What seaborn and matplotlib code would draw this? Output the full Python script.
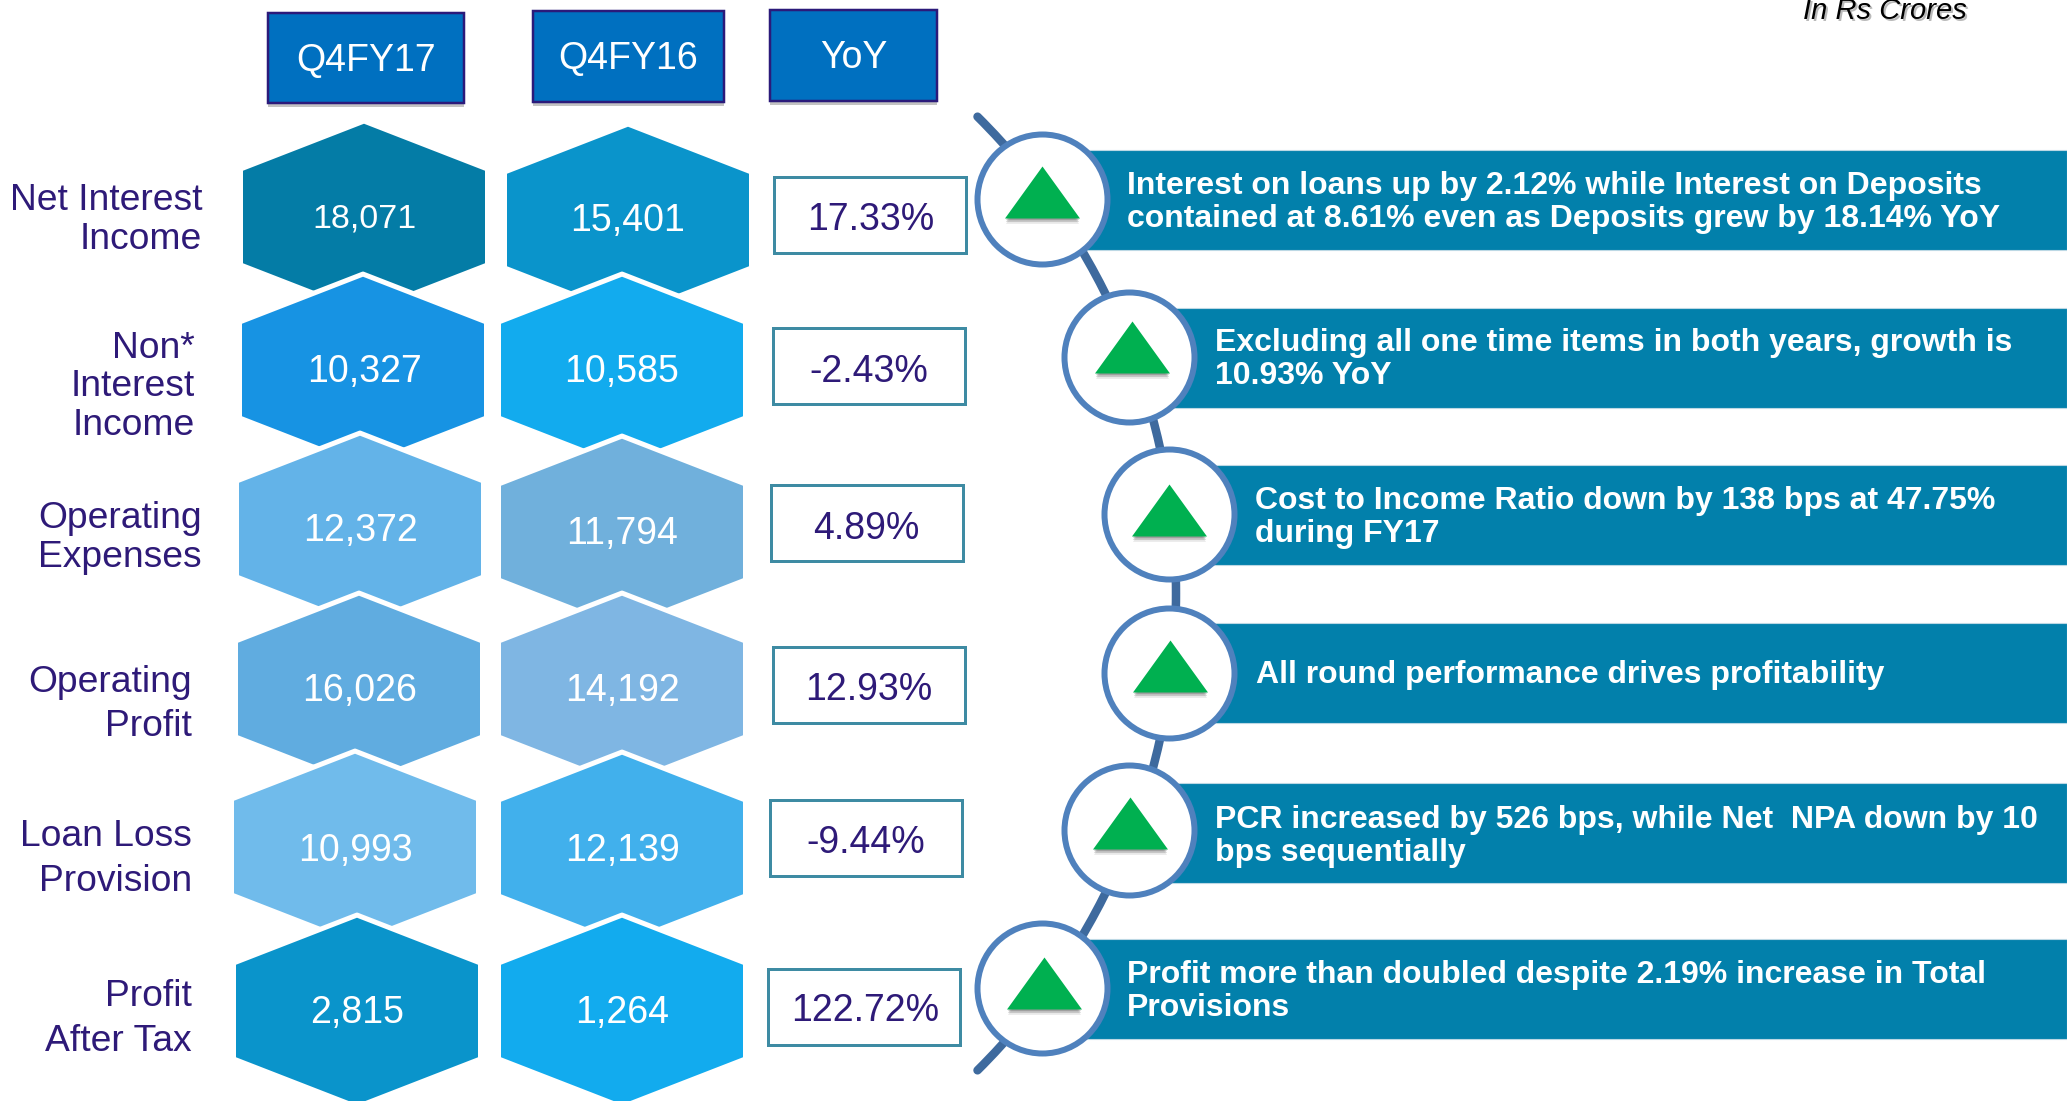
import matplotlib
matplotlib.use("Agg")
import matplotlib.pyplot as plt
import pandas as pd
import seaborn as sns
from matplotlib.patches import Arc, Rectangle
from matplotlib.path import Path
import matplotlib.patheffects as pe

# ---------- data ----------
metrics = [["Net Interest", "Income"], ["Non*", "Interest", "Income"], ["Operating", "Expenses"],
           ["Operating", "Profit"], ["Loan Loss", "Provision"], ["Profit", "After Tax"]]
q4fy17 = [18071, 10327, 12372, 16026, 10993, 2815]
q4fy16 = [15401, 10585, 11794, 14192, 12139, 1264]
yoy = ["17.33%", "-2.43%", "4.89%", "12.93%", "-9.44%", "122.72%"]
headers = ["Q4FY17", "Q4FY16", "YoY"]
notes = [["Interest on loans up by 2.12% while Interest on Deposits",
          "contained at 8.61% even as Deposits grew by 18.14% YoY"],
         ["Excluding all one time items in both years, growth is", "10.93% YoY"],
         ["Cost to Income Ratio down by 138 bps at 47.75%", "during FY17"],
         ["All round performance drives profitability"],
         ["PCR increased by 526 bps, while Net  NPA down by 10", "bps sequentially"],
         ["Profit more than doubled despite 2.19% increase in Total", "Provisions"]]
unit_note = "In Rs Crores"

# ---------- layout ----------
W, H = 2067, 1101
PX = 0.72  # points per pixel at dpi 100
hex_x17 = [364, 363, 360, 359, 355, 357]
hex_x16 = [628, 622, 622, 622, 622, 622]
hex_y17 = [217, 370, 529, 689, 847, 1011]
hex_y16 = [220, 370, 532, 689, 848, 1011]
text_y17 = [215, 369, 528, 688, 848, 1010]
text_y16 = [218, 369, 531, 688, 848, 1010]
text_x17 = [364, 364, 361, 360, 355, 357]
value_size17 = [24.5, 27, 27, 27, 27, 27]
colors17 = ["#047CA6", "#1793E3", "#63B3E8", "#60ACE0", "#70BBEB", "#0A94CB"]
colors16 = ["#0A94CB", "#12ABEE", "#70B0DC", "#7FB6E3", "#41B0EC", "#12ABEE"]
label_right = [202, 195, 202, 192, 192, 192]
label_y = [[197, 236], [345, 383, 422], [515, 554], [679, 723], [833, 878], [993, 1038]]
header_box = [(268, 13, 196, 90), (533, 11, 191, 91), (770, 10, 167, 91)]
box_x = [774, 773, 771, 773, 770, 768]
box_y = [177, 328, 485, 647, 800, 969]
yoy_x = [871, 869, 866, 869, 866, 865]
yoy_y = [217, 369, 526, 687, 840, 1008]
bar_y = [150, 308, 465, 623, 783, 939]
circ_x = [1042, 1129, 1169, 1169, 1129, 1042]
circ_y = [199, 357, 514, 673, 830, 988]
tri_x = [1042, 1132, 1169, 1170, 1130, 1044]
tri_y = [192, 347, 510, 666, 823, 983]
note_x = [1127, 1215, 1255, 1256, 1215, 1127]
note_y = [[183, 216], [340, 373], [498, 531], [672], [817, 850], [972, 1005]]

NAVY = "#2E1A78"
FONT = "Liberation Sans"

sns.set_theme(style="white")
plt.rcParams["font.family"] = [FONT, "DejaVu Sans"]
fig = plt.figure(figsize=(W / 100, H / 100), dpi=100)
ax = fig.add_axes([0, 0, 1, 1])
ax.set_xlim(0, W)
ax.set_ylim(H, 0)
ax.axis("off")


def ctext(x, yc, s, size, **kw):
    """Place text so that the middle of its capitals sits at yc (pixels)."""
    base = yc + 0.358 * size / PX
    return ax.text(x, base, s, fontsize=size, va="baseline", **kw)


# arc behind the circles
ax.add_patch(Arc((504, 593.5), 1344, 1344, theta1=-45.2, theta2=45.2,
                 color="#3E6A9E", lw=8.5 * PX, zorder=1, capstyle="round"))

# note bars start at the centre of each circle
ax.barh([y + 50 for y in bar_y], [W - x for x in circ_x], left=circ_x, height=100,
        color="#0280AB", edgecolor="#BCD8E4", linewidth=0.8, zorder=2)

# circles
circ = pd.DataFrame({"x": circ_x, "y": circ_y})
sns.scatterplot(data=circ, x="x", y="y", marker="o", s=(130 * PX) ** 2, color="white",
                edgecolor="#4F81BD", linewidth=6 * PX, zorder=3, ax=ax, legend=False)

# triangles
tri_path = Path([(-37.5, -26), (37.5, -26), (0, 26), (-37.5, -26)], closed=True)
tri = pd.DataFrame({"x": tri_x, "y": tri_y})
for dy, a in [(6, 0.12), (4, 0.25), (2, 0.3)]:
    sns.scatterplot(data=tri.assign(y=tri.y + dy), x="x", y="y", marker=tri_path, s=(73 * PX) ** 2,
                    color="#444444", alpha=a, linewidth=0, zorder=4, ax=ax, legend=False)
sns.scatterplot(data=tri, x="x", y="y", marker=tri_path, s=(75 * PX) ** 2,
                color="#00B050", linewidth=0, zorder=5, ax=ax, legend=False)

# hexagons: single scatter so later rows overlap earlier ones with their white outline
hex_path = Path([(0, 94), (121, 47), (121, -47), (0, -94), (-121, -47), (-121, 47), (0, 94)], closed=True)
rows = []
for i in range(6):
    rows.append(dict(x=hex_x17[i], y=hex_y17[i], key=f"a{i}", value=q4fy17[i]))
    rows.append(dict(x=hex_x16[i], y=hex_y16[i], key=f"b{i}", value=q4fy16[i]))
hexes = pd.DataFrame(rows)
pal = {f"a{i}": colors17[i] for i in range(6)} | {f"b{i}": colors16[i] for i in range(6)}
sns.scatterplot(data=hexes, x="x", y="y", hue="key", palette=pal, marker=hex_path,
                s=(247 * PX) ** 2, edgecolor="white", linewidth=5 * PX, zorder=6, ax=ax, legend=False)

# hexagon values
for i in range(6):
    ctext(text_x17[i], text_y17[i], f"{q4fy17[i]:,}", value_size17[i], color="white", ha="center", zorder=7)
    ctext(hex_x16[i], text_y16[i], f"{q4fy16[i]:,}", 27, color="white", ha="center", zorder=7)

# row labels
for lines, r, ys in zip(metrics, label_right, label_y):
    for line, y in zip(lines, ys):
        ctext(r, y, line, 26.8, color=NAVY, ha="right")

# headers
for (x, y, w, h), t in zip(header_box, headers):
    ax.add_patch(Rectangle((x, y), w, h, fc="#0070C0", ec="#2B1A7A", lw=2.5 * PX, zorder=3,
                           path_effects=[pe.SimplePatchShadow(offset=(0, -3), shadow_rgbFace="#555555", alpha=0.35),
                                         pe.Normal()]))
    ctext(x + w / 2, y + 45, t, 27.0, color="white", ha="center", zorder=4)

# YoY boxes
for x, y, tx, ty, t in zip(box_x, box_y, yoy_x, yoy_y, yoy):
    ax.add_patch(Rectangle((x, y), 192, 76, fc="white", ec="#3E8BA3", lw=3 * PX, zorder=3))
    ctext(tx, ty, t, 27.0, color=NAVY, ha="center", zorder=4)

# note text
for lines, x, ys in zip(notes, note_x, note_y):
    for line, y in zip(lines, ys):
        ctext(x, y, line, 23.05, color="white", fontweight="bold", ha="left", zorder=8)

# unit note
ax.text(1967 + 2, 21, unit_note, fontsize=21, style="italic", color="#777777", alpha=0.5, ha="right", va="baseline")
ax.text(1967, 19, unit_note, fontsize=21, style="italic", color="black", ha="right", va="baseline")

fig.savefig("out.png", dpi=100)
